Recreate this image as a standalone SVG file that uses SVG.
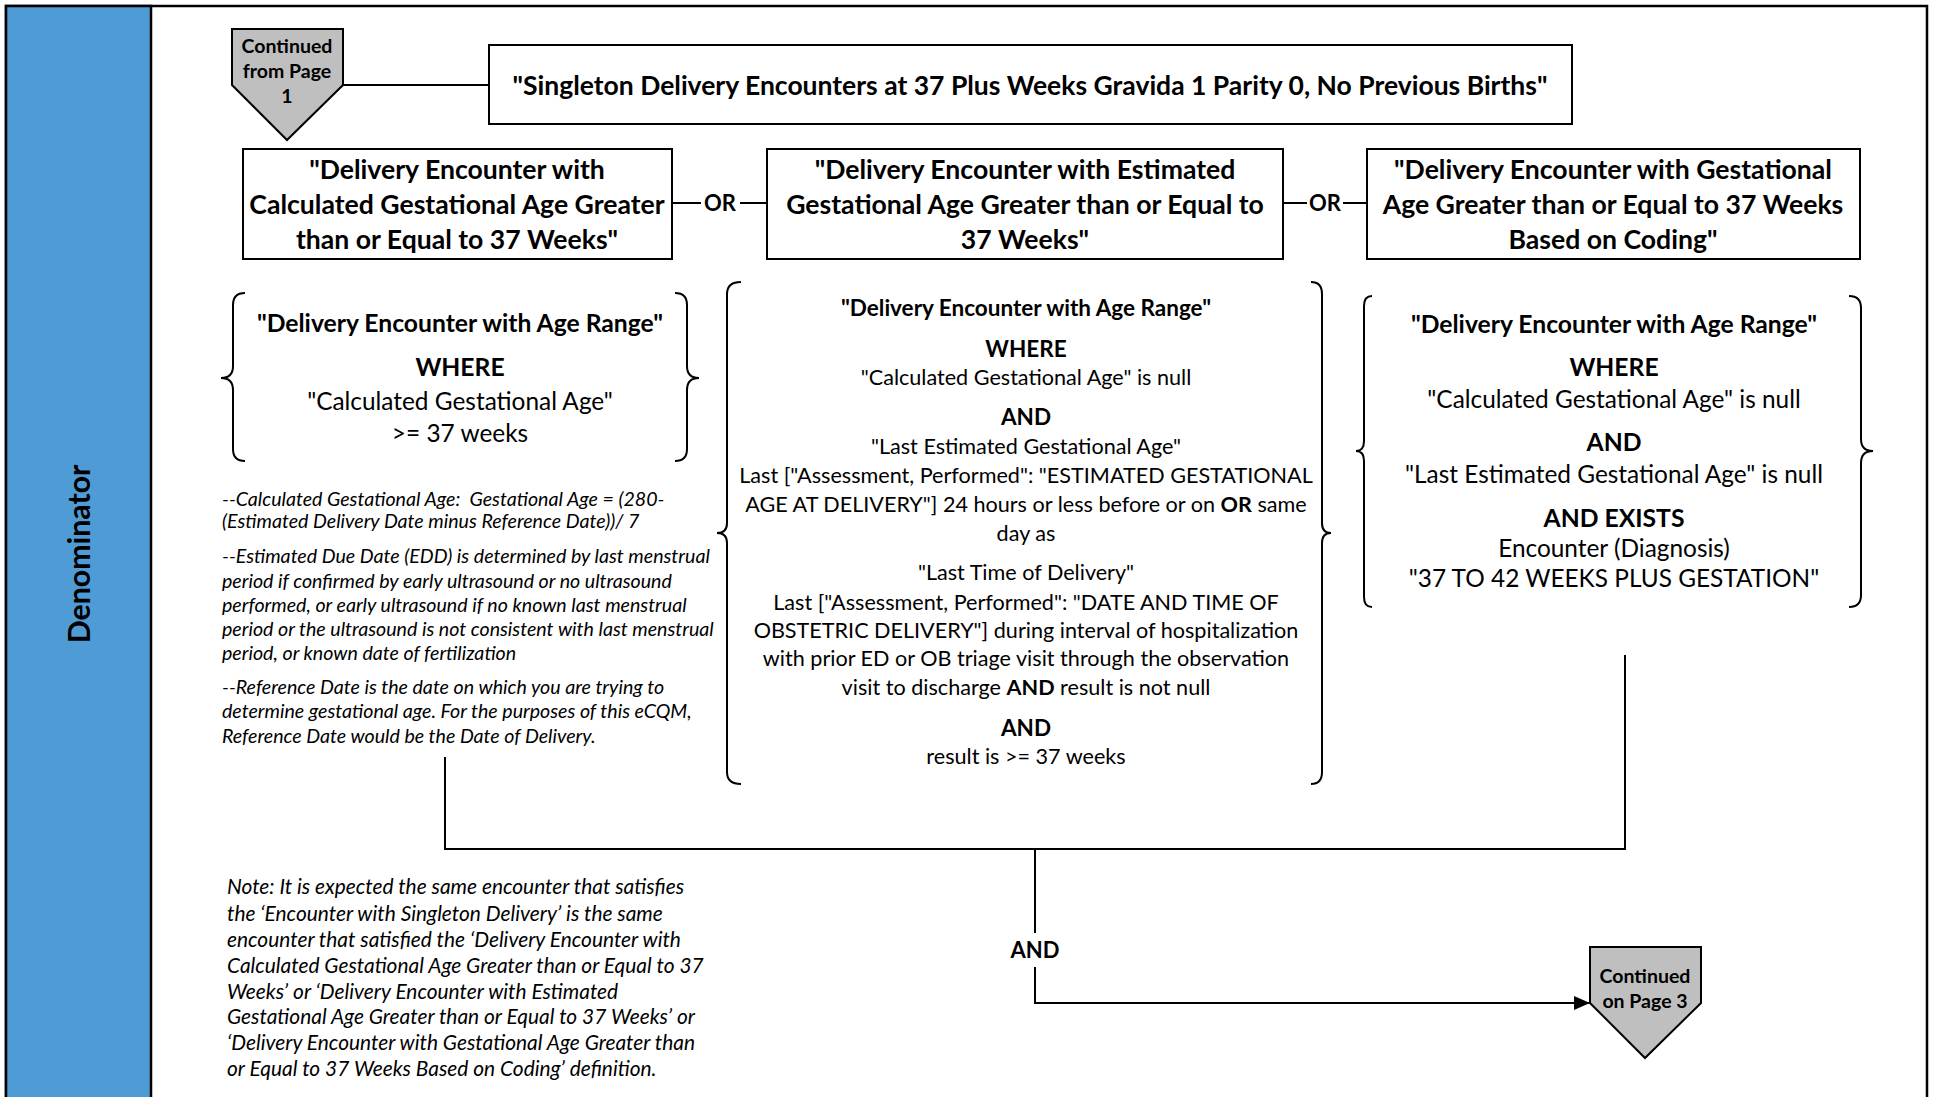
<svg xmlns="http://www.w3.org/2000/svg" width="1933" height="1097" viewBox="0 0 1933 1097">
<style>
text{font-family:Lato,"Liberation Sans",sans-serif;fill:#000}
.c{text-anchor:middle}
.b{font-weight:bold}
.title{font-size:26.5px;font-weight:bold}
.box{font-size:26.6px;font-weight:bold}
.hdr{font-size:24.7px;font-weight:bold}
.body{font-size:24.4px}
.mhdr{font-size:22.5px;font-weight:bold}
.mbody{font-size:21.6px}
.fn{font-size:19.6px;font-style:italic}
.note{font-size:20.9px;font-style:italic}
.pent{font-size:19.5px;font-weight:bold}
.op{font-size:22px;font-weight:bold}
.shape{fill:#fff;stroke:#000;stroke-width:2}
.pg{fill:#BFBFBF;stroke:#000;stroke-width:2}
.brace{fill:none;stroke:#000;stroke-width:2}
.ln{fill:none;stroke:#000;stroke-width:2}
</style>
<defs>
<marker id="arr" markerUnits="userSpaceOnUse" markerWidth="16" markerHeight="14" refX="16" refY="7" orient="auto">
<path d="M0,0 L16,7 L0,14 z" fill="#000"/>
</marker>
</defs>
<rect x="0" y="0" width="1933" height="1097" fill="#fff"/>
<g id="lane">
<rect x="6" y="6" width="1921" height="1100" fill="#fff" stroke="#000" stroke-width="2.5"/>
<rect x="6" y="6" width="145" height="1100" fill="#4F9BD6" stroke="#000" stroke-width="2.5"/>
<text class="b" text-anchor="middle" font-size="30.3" transform="translate(90,554) rotate(-90)">Denominator</text>
</g>
<g id="connectors">
<line class="ln" x1="343" y1="85" x2="489" y2="85"/>
<line class="ln" x1="672" y1="203" x2="701" y2="203"/>
<line class="ln" x1="740" y1="203" x2="767" y2="203"/>
<line class="ln" x1="1283" y1="203" x2="1307" y2="203"/>
<line class="ln" x1="1343" y1="203" x2="1367" y2="203"/>
<polyline class="ln" points="445,757 445,849 1625,849 1625,655"/>
<line class="ln" x1="1035" y1="849" x2="1035" y2="933"/>
<polyline class="ln" points="1035,967 1035,1003 1590,1003" marker-end="url(#arr)"/>
<text class="op c" x="720" y="211">OR</text>
<text class="op c" x="1325" y="211">OR</text>
<text class="op c" x="1035" y="958">AND</text>
</g>
<g id="continued-from-page-1">
<polygon class="pg" points="232,29 343,29 343,85 287,140 232,85"/>
<text class="pent c" x="287" y="53">Continued</text>
<text class="pent c" x="287" y="78">from Page</text>
<text class="pent c" x="287" y="103">1</text>
</g>
<g id="singleton">
<rect class="shape" x="489" y="45" width="1083" height="79"/>
<text class="title c" x="1030" y="95">"Singleton Delivery Encounters at 37 Plus Weeks Gravida 1 Parity 0, No Previous Births"</text>
</g>
<g id="calculated-ga">
<rect class="shape" x="243" y="149" width="429" height="110"/>
<text class="box c" x="457" y="179">"Delivery Encounter with</text>
<text class="box c" x="457" y="214">Calculated Gestational Age Greater</text>
<text class="box c" x="457" y="249">than or Equal to 37 Weeks"</text>
</g>
<g id="estimated-ga">
<rect class="shape" x="767" y="149" width="516" height="110"/>
<text class="box c" x="1025" y="179">"Delivery Encounter with Estimated</text>
<text class="box c" x="1025" y="214">Gestational Age Greater than or Equal to</text>
<text class="box c" x="1025" y="249">37 Weeks"</text>
</g>
<g id="coding-ga">
<rect class="shape" x="1367" y="149" width="493" height="110"/>
<text class="box c" x="1613" y="179">"Delivery Encounter with Gestational</text>
<text class="box c" x="1613" y="214">Age Greater than or Equal to 37 Weeks</text>
<text class="box c" x="1613" y="249">Based on Coding"</text>
</g>
<g id="calculated-criteria">
<path class="brace" d="M245,293 Q233,293 233,305 L233,366 Q233,378 221,378 Q233,378 233,390 L233,449 Q233,461 245,461"/>
<path class="brace" d="M675,293 Q687,293 687,305 L687,366 Q687,378 699,378 Q687,378 687,390 L687,449 Q687,461 675,461"/>
<text class="hdr c" x="460" y="332">"Delivery Encounter with Age Range"</text>
<text class="hdr c" x="460" y="376">WHERE</text>
<text class="body c" x="460" y="410">"Calculated Gestational Age"</text>
<text class="body c" x="460" y="442">&gt;= 37 weeks</text>
</g>
<g id="footnotes">
<text class="fn" x="222" y="506">--Calculated Gestational Age:&#160; Gestational Age = (280-</text>
<text class="fn" x="222" y="528">(Estimated Delivery Date minus Reference Date))/ 7</text>
<text class="fn" x="222" y="563">--Estimated Due Date (EDD) is determined by last menstrual</text>
<text class="fn" x="222" y="588">period if confirmed by early ultrasound or no ultrasound</text>
<text class="fn" x="222" y="612">performed, or early ultrasound if no known last menstrual</text>
<text class="fn" x="222" y="636">period or the ultrasound is not consistent with last menstrual</text>
<text class="fn" x="222" y="660">period, or known date of fertilization</text>
<text class="fn" x="222" y="694">--Reference Date is the date on which you are trying to</text>
<text class="fn" x="222" y="718">determine gestational age. For the purposes of this eCQM,</text>
<text class="fn" x="222" y="743">Reference Date would be the Date of Delivery.</text>
</g>
<g id="estimated-criteria">
<path class="brace" d="M741,282 Q727,282 727,294 L727,523 Q727,533 717,533 Q727,533 727,543 L727,772 Q727,784 741,784"/>
<path class="brace" d="M1311,282 Q1322,282 1322,294 L1322,523 Q1322,533 1331,533 Q1322,533 1322,543 L1322,772 Q1322,784 1311,784"/>
<text class="mhdr c" x="1026" y="316">"Delivery Encounter with Age Range"</text>
<text class="mhdr c" x="1026" y="357">WHERE</text>
<text class="mbody c" x="1026" y="385">"Calculated Gestational Age" is null</text>
<text class="mhdr c" x="1026" y="425">AND</text>
<text class="mbody c" x="1026" y="454">"Last Estimated Gestational Age"</text>
<text class="mbody c" x="1026" y="483">Last ["Assessment, Performed": "ESTIMATED GESTATIONAL</text>
<text class="mbody c" x="1026" y="512">AGE AT DELIVERY"] 24 hours or less before or on <tspan class="b">OR</tspan> same</text>
<text class="mbody c" x="1026" y="541">day as</text>
<text class="mbody c" x="1026" y="580">"Last Time of Delivery"</text>
<text class="mbody c" x="1026" y="610">Last ["Assessment, Performed": "DATE AND TIME OF</text>
<text class="mbody c" x="1026" y="638">OBSTETRIC DELIVERY"] during interval of hospitalization</text>
<text class="mbody c" x="1026" y="666">with prior ED or OB triage visit through the observation</text>
<text class="mbody c" x="1026" y="695">visit to discharge <tspan class="b">AND</tspan> result is not null</text>
<text class="mhdr c" x="1026" y="736">AND</text>
<text class="mbody c" x="1026" y="764">result is &gt;= 37 weeks</text>
</g>
<g id="coding-criteria">
<path class="brace" d="M1372,296 Q1364,296 1364,306 L1364,441 Q1364,451 1356,451 Q1364,451 1364,461 L1364,597 Q1364,607 1372,607"/>
<path class="brace" d="M1849,296 Q1861,296 1861,308 L1861,439 Q1861,451 1873,451 Q1861,451 1861,463 L1861,595 Q1861,607 1849,607"/>
<text class="hdr c" x="1614" y="333">"Delivery Encounter with Age Range"</text>
<text class="hdr c" x="1614" y="376">WHERE</text>
<text class="body c" x="1614" y="408">"Calculated Gestational Age" is null</text>
<text class="hdr c" x="1614" y="451">AND</text>
<text class="body c" x="1614" y="483">"Last Estimated Gestational Age" is null</text>
<text class="hdr c" x="1614" y="527">AND EXISTS</text>
<text class="body c" x="1614" y="557">Encounter (Diagnosis)</text>
<text class="body c" x="1614" y="587">"37 TO 42 WEEKS PLUS GESTATION"</text>
</g>
<g id="note">
<text class="note" x="227" y="894">Note: It is expected the same encounter that satisfies</text>
<text class="note" x="227" y="921">the ‘Encounter with Singleton Delivery’ is the same</text>
<text class="note" x="227" y="947">encounter that satisfied the ‘Delivery Encounter with</text>
<text class="note" x="227" y="973">Calculated Gestational Age Greater than or Equal to 37</text>
<text class="note" x="227" y="999">Weeks’ or ‘Delivery Encounter with Estimated</text>
<text class="note" x="227" y="1024">Gestational Age Greater than or Equal to 37 Weeks’ or</text>
<text class="note" x="227" y="1050">‘Delivery Encounter with Gestational Age Greater than</text>
<text class="note" x="227" y="1076">or Equal to 37 Weeks Based on Coding’ definition.</text>
</g>
<g id="continued-on-page-3">
<polygon class="pg" points="1590,947 1701,947 1701,1003 1645,1058 1590,1003"/>
<text class="pent c" x="1645" y="983">Continued</text>
<text class="pent c" x="1645" y="1008">on Page 3</text>
</g>
</svg>
